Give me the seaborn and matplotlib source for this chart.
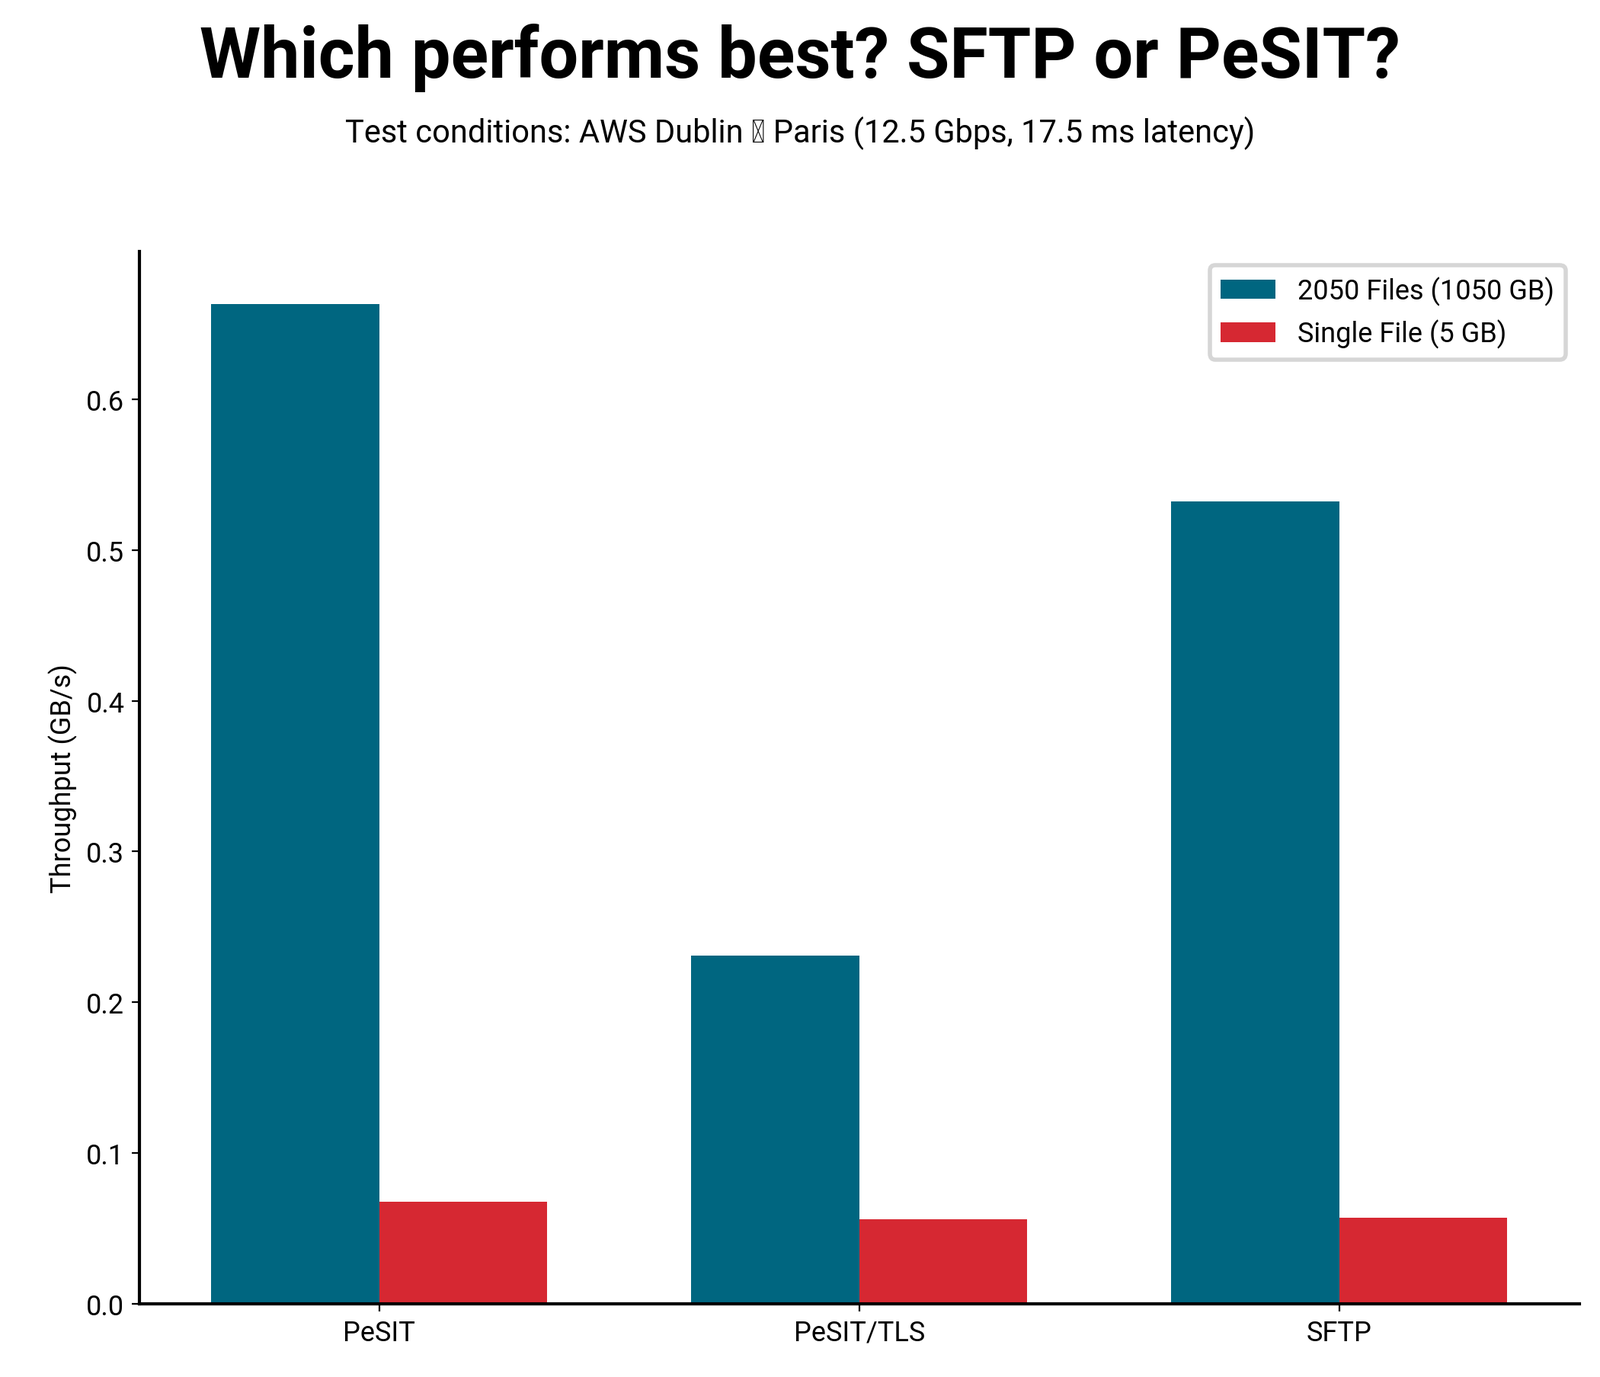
import matplotlib
matplotlib.use("Agg")
import matplotlib.pyplot as plt
import seaborn as sns
import pandas as pd

protocols = ["PeSIT", "PeSIT/TLS", "SFTP"]
series_names = ["2050 Files (1050 GB)", "Single File (5 GB)"]
many_files = [0.663, 0.231, 0.532]
single_file = [0.068, 0.056, 0.057]

df = pd.DataFrame({
    "Protocol": protocols * 2,
    "Series": [series_names[0]] * 3 + [series_names[1]] * 3,
    "Throughput": many_files + single_file,
})

plt.rcParams["font.family"] = "Roboto"
fig = plt.figure(figsize=(10.5, 9.04), dpi=200)
ax = fig.add_axes([0.087, 0.053, 0.9, 0.764])
sns.barplot(data=df, x="Protocol", y="Throughput", hue="Series",
            palette=["#006680", "#D62832"], width=0.7, ax=ax, saturation=1)
ax.set_ylim(0, 0.698)
ax.set_xlabel("")
ax.set_ylabel("Throughput (GB/s)", fontsize=13)
ax.tick_params(labelsize=13)
ax.set_yticks([0, 0.1, 0.2, 0.3, 0.4, 0.5, 0.6])
for s in ["top", "right"]:
    ax.spines[s].set_visible(False)
for s in ["left", "bottom"]:
    ax.spines[s].set_linewidth(1.5)
leg = ax.legend(loc="upper right", fontsize=13, frameon=True, fancybox=True)
leg.get_frame().set_edgecolor("#cccccc")
leg.get_frame().set_linewidth(2)
fig.text(0.5, 0.958, "Which performs best? SFTP or PeSIT?", ha="center", va="center",
         fontsize=33, fontweight="bold")
fig.text(0.5, 0.903, "Test conditions: AWS Dublin \u2192 Paris (12.5 Gbps, 17.5 ms latency)",
         ha="center", va="center", fontsize=15)
fig.savefig("out.png", dpi=200)
